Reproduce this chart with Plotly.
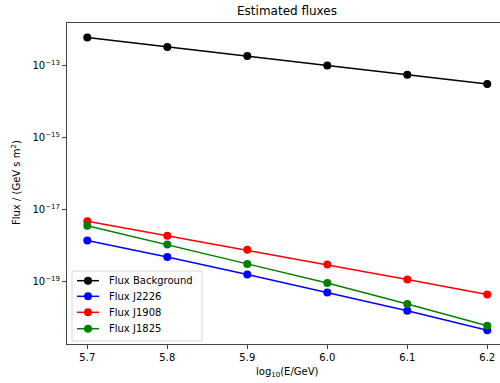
import plotly.graph_objects as go

log_e = [5.7, 5.8, 5.9, 6.0, 6.1, 6.2]
flux_background = [5.9e-13, 3.2e-13, 1.8e-13, 9.8e-14, 5.4e-14, 3.0e-14]
flux_j2226 = [1.38e-18, 4.8e-19, 1.58e-19, 5.0e-20, 1.55e-20, 4.5e-21]
flux_j1908 = [4.7e-18, 1.86e-18, 7.6e-19, 3.0e-19, 1.15e-19, 4.4e-20]
flux_j1825 = [3.55e-18, 1.07e-18, 3.1e-19, 9.1e-20, 2.4e-20, 6.0e-21]

x_ticks = [5.7, 5.8, 5.9, 6.0, 6.1, 6.2]
y_tick_exps = [-19, -17, -15, -13]

series_names = ["Flux Background", "Flux J2226", "Flux J1908", "Flux J1825"]
series_values = [flux_background, flux_j2226, flux_j1908, flux_j1825]
series_colors = ["black", "blue", "red", "green"]

W, H = 500, 383
L, T, B = 67, 23, 39
PW, PH = W - L, H - T - B


def px_x(px):
    return (px - L) / PW


def px_y(py):
    return (H - B - py) / PH


fig = go.Figure()
for name, vals, col in zip(series_names, series_values, series_colors):
    fig.add_trace(go.Scatter(
        x=log_e, y=vals, name=name, mode="lines+markers",
        line=dict(color=col, width=1.5),
        marker=dict(color=col, size=8),
    ))

# legend drawn in the matplotlib style (compact rows)
shapes = [dict(type="rect", xref="paper", yref="paper", layer="above",
               x0=px_x(72), x1=px_x(202), y0=px_y(341), y1=px_y(271),
               line=dict(color="#d6d6d6", width=1),
               fillcolor="rgba(255,255,255,0.85)")]
annotations = []
row_y = [280.7, 296.3, 312.3, 328.7]
for name, col, ry in zip(series_names, series_colors, row_y):
    shapes.append(dict(type="line", xref="paper", yref="paper", layer="above",
                       x0=px_x(77), x1=px_x(99), y0=px_y(ry), y1=px_y(ry),
                       line=dict(color=col, width=1.5)))
    shapes.append(dict(type="circle", xref="paper", yref="paper", layer="above",
                       xsizemode="pixel", ysizemode="pixel",
                       xanchor=px_x(88), yanchor=px_y(ry),
                       x0=-4, x1=4, y0=-4, y1=4,
                       line=dict(color=col, width=0), fillcolor=col))
    annotations.append(dict(text=name, xref="paper", yref="paper",
                            x=px_x(107), y=px_y(ry), xanchor="left",
                            yanchor="middle", showarrow=False,
                            font=dict(size=10, color="black")))

annotations += [
    dict(text="log<sub>10</sub>(E/GeV)", xref="paper", yref="paper",
         x=px_x(287), y=px_y(373),
         xanchor="center", yanchor="middle", showarrow=False,
         font=dict(size=10)),
    dict(text="Flux / (GeV s m<sup>2</sup>)", xref="paper", yref="paper",
         x=px_x(16), y=px_y(183),
         xanchor="center", yanchor="middle", showarrow=False, textangle=-90,
         font=dict(size=10)),
]

font = "DejaVu Sans, Arial, sans-serif"
fig.update_layout(
    width=W, height=H,
    margin=dict(l=L, r=0, t=T, b=B, autoexpand=False),
    paper_bgcolor="white", plot_bgcolor="white",
    font=dict(family=font, size=10, color="black"),
    title=dict(text="Estimated fluxes", x=(287 / W), xanchor="center",
               y=1 - 11 / H, yanchor="middle", font=dict(size=12)),
    showlegend=False,
    xaxis=dict(
        range=[5.6746, 6.2159], tickvals=x_ticks,
        ticktext=[f"{v:.1f}" for v in x_ticks],
        showgrid=False, zeroline=False, automargin=False,
        showline=True, linecolor="#444", linewidth=1, mirror=True,
        ticks="outside", ticklen=4, tickcolor="#444",
        tickfont=dict(size=10),
    ),
    yaxis=dict(
        type="log", range=[-20.73, -11.83],
        tickvals=[10.0 ** e for e in y_tick_exps],
        ticktext=[f"10<sup>\u2212{-e}</sup>" for e in y_tick_exps],
        showgrid=False, zeroline=False, automargin=False,
        showline=True, linecolor="#444", linewidth=1, mirror=False,
        ticks="outside", ticklen=4, tickcolor="#444",
        tickfont=dict(size=10),
    ),
    shapes=shapes,
    annotations=annotations,
)

fig.write_html(
    "out.html",
    config={"displayModeBar": False},
    post_script="document.body.style.margin='0';document.body.style.overflow='hidden';",
)
